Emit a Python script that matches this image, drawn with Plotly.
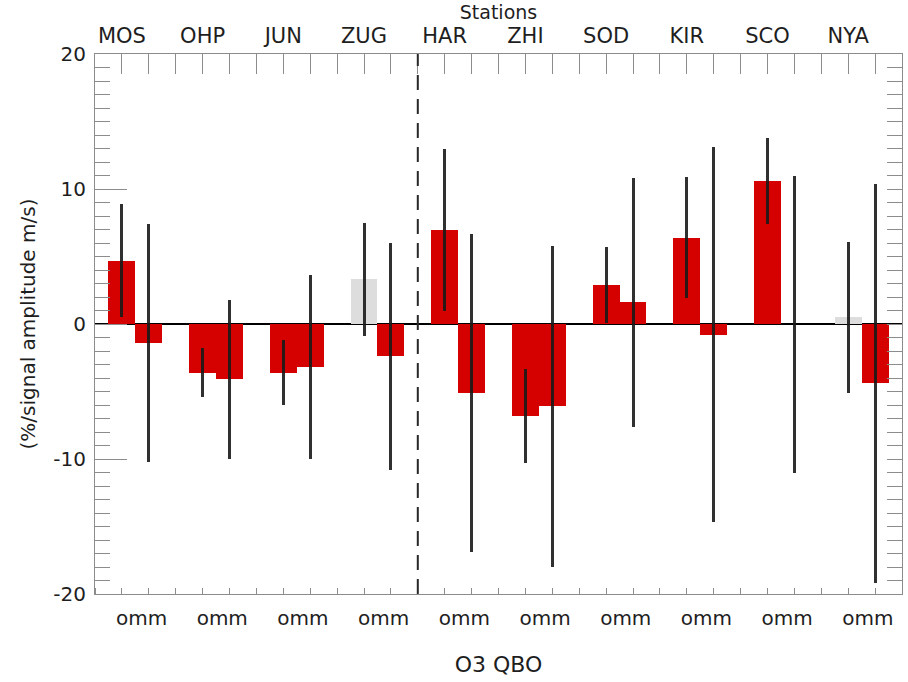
import plotly.graph_objects as go

# Stations and per-station O3 QBO amplitudes (first / second bar), with 1-sigma ranges
stations = ["MOS", "OHP", "JUN", "ZUG", "HAR", "ZHI", "SOD", "KIR", "SCO", "NYA"]
first_vals = [4.7, -3.6, -3.6, 3.3, 7.0, -6.8, 2.9, 6.4, 10.6, 0.5]
first_errs = [4.2, 1.8, 2.4, 4.2, 6.0, 3.5, 2.8, 4.5, 3.2, 5.6]
first_sig = [True, True, True, False, True, True, True, True, True, False]
second_vals = [-1.4, -4.1, -3.2, -2.4, -5.1, -6.1, 1.6, -0.8, 0.0, -4.4]
second_errs = [8.8, 5.9, 6.8, 8.4, 11.8, 11.9, 9.2, 13.9, 11.0, 14.8]
second_sig = [True] * 10
bottom_label = "omm"
y_ticks = [-20, -10, 0, 10, 20]
y_tick_text = ["-20", "-10", "0", "10", "20"]

RED = "rgb(213,0,0)"
GREY = "rgb(221,221,221)"
FRAME = "rgb(140,140,140)"
FONT = "DejaVu Sans"

slot = 3  # x units per station
x_pos, vals, errs, cols = [], [], [], []
for i in range(len(stations)):
    for off, v, e, s in ((1, first_vals[i], first_errs[i], first_sig[i]),
                         (2, second_vals[i], second_errs[i], second_sig[i])):
        x_pos.append(slot * i + off)
        vals.append(v)
        errs.append(e)
        cols.append(RED if s else GREY)

n_units = slot * len(stations)

fig = go.Figure()
fig.add_trace(go.Bar(
    x=x_pos, y=vals, width=1,
    marker=dict(color=cols, line=dict(width=0)),
    error_y=dict(type="data", array=errs, visible=True, width=0,
                 thickness=3, color="rgba(25,25,25,0.9)"),
    showlegend=False, hoverinfo="skip",
))
# empty trace so the top and right axes are drawn
fig.add_trace(go.Scatter(x=[], y=[], xaxis="x2", yaxis="y2", showlegend=False))

top_text = [""] * (n_units + 1)
for i, s in enumerate(stations):
    top_text[slot * i + 1] = s

fig.update_layout(
    width=908, height=682,
    margin=dict(l=95, r=6, t=54, b=88),
    paper_bgcolor="white", plot_bgcolor="white",
    font=dict(family=FONT, color="rgb(30,30,30)"),
    bargap=0,
    title=dict(text="Stations", x=0.5, xref="paper", y=1 - 12 / 682,
               yref="container", xanchor="center", yanchor="middle",
               font=dict(size=19, family=FONT)),
    xaxis=dict(
        range=[0, n_units], showgrid=False, zeroline=False,
        showline=True, linecolor=FRAME, linewidth=1,
        tickmode="array",
        tickvals=[slot * i + 1.73 for i in range(len(stations))],
        ticktext=[bottom_label] * len(stations),
        ticks="", tickfont=dict(size=20), ticklabelstandoff=6,
        minor=dict(ticks="inside", ticklen=6, tickcolor=FRAME,
                   tickmode="array", tickvals=list(range(n_units + 1))),
        title=dict(text="O3 QBO", font=dict(size=22), standoff=27),
    ),
    xaxis2=dict(
        range=[0, n_units], overlaying="x", side="top", anchor="y",
        showgrid=False, zeroline=False,
        showline=True, linecolor=FRAME, linewidth=1,
        tickmode="array", tickvals=list(range(n_units + 1)), ticktext=top_text,
        ticks="inside", ticklen=20, tickcolor=FRAME,
        tickfont=dict(size=21), ticklabelstandoff=2,
    ),
    yaxis=dict(
        range=[-20, 20], showgrid=False,
        zeroline=True, zerolinecolor="black", zerolinewidth=2,
        showline=True, linecolor=FRAME, linewidth=1,
        tickmode="array", tickvals=y_ticks, ticktext=y_tick_text,
        ticks="inside", ticklen=32, tickcolor=FRAME,
        tickfont=dict(size=20), ticklabelstandoff=4,
        minor=dict(ticks="inside", ticklen=15, tickcolor=FRAME,
                   tickmode="linear", tick0=0, dtick=1),
        title=dict(text="(%/signal amplitude m/s)", font=dict(size=20), standoff=12),
    ),
    yaxis2=dict(
        range=[-20, 20], overlaying="y", side="right", anchor="x",
        showgrid=False, zeroline=False,
        showline=True, linecolor=FRAME, linewidth=1,
        showticklabels=False,
        tickmode="linear", tick0=0, dtick=1,
        ticks="inside", ticklen=15, tickcolor=FRAME,
    ),
)

# dashed separator between station groups
fig.add_shape(type="line", xref="x", yref="paper",
              x0=slot * 4, x1=slot * 4, y0=0, y1=1,
              line=dict(color="rgb(40,40,40)", width=2, dash="15px,9px"),
              layer="above")

fig.write_html("out.html")
